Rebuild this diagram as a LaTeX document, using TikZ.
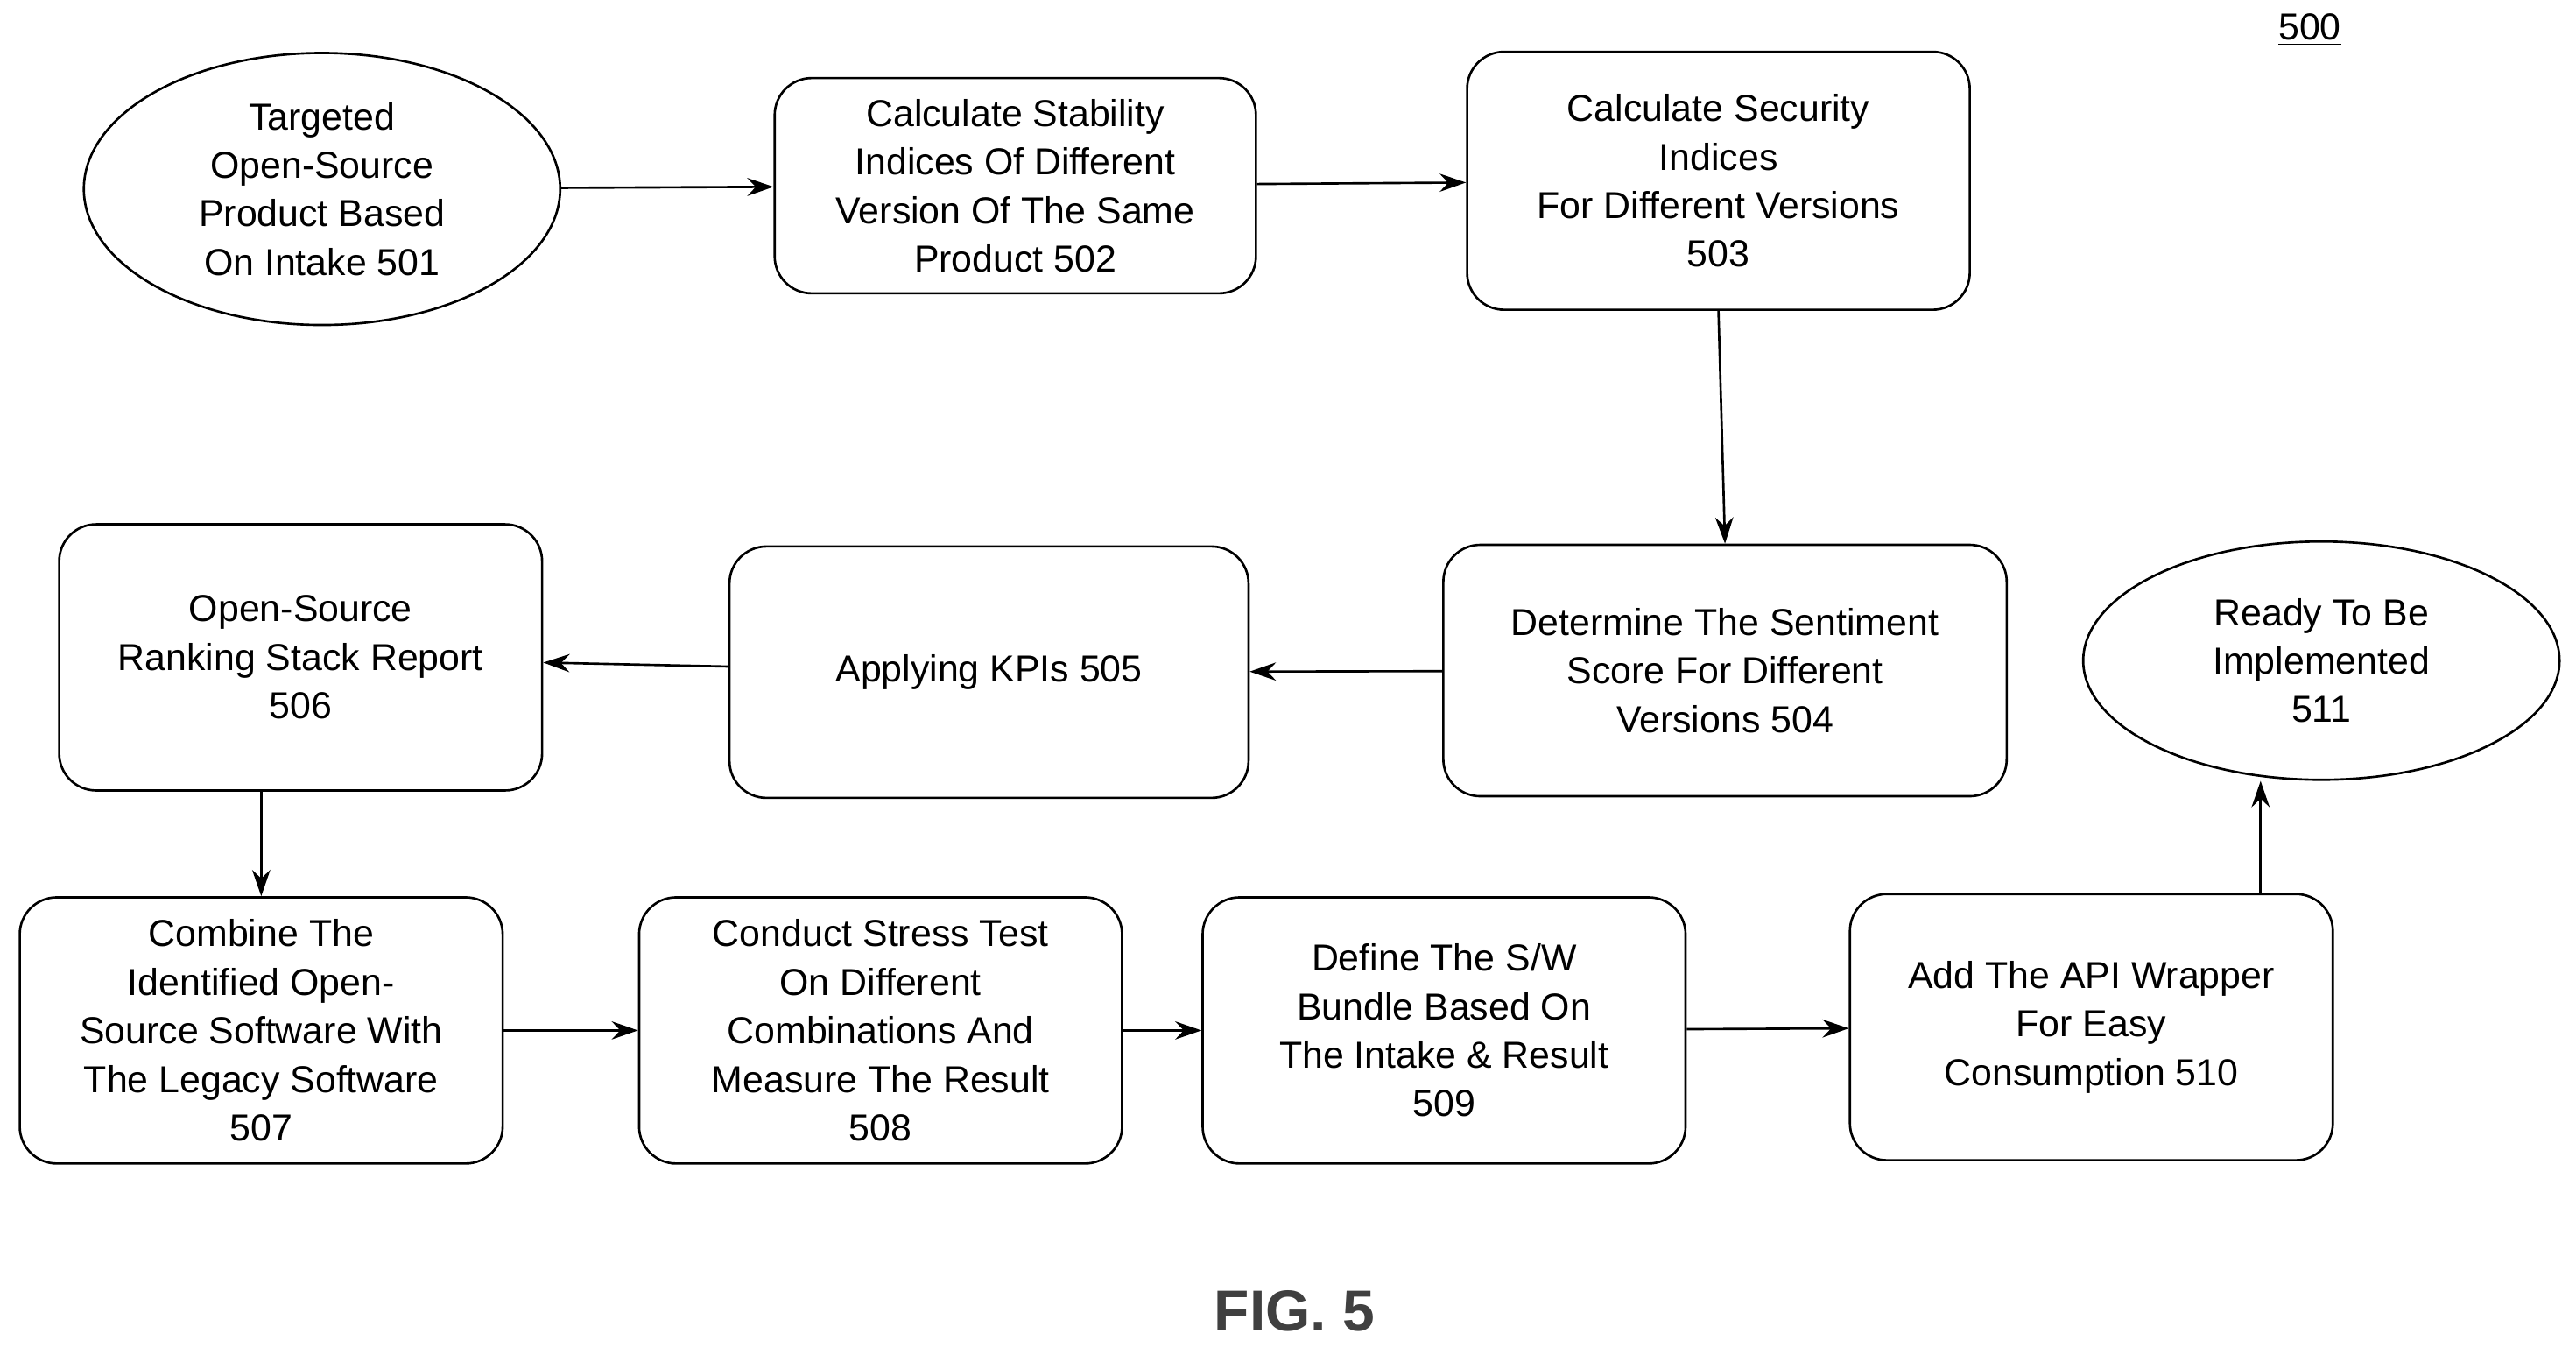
\documentclass[tikz,border=0pt]{standalone}
\usepackage{fontspec}
\setmainfont{Liberation Sans}
\usetikzlibrary{shapes.geometric, arrows.meta, calc}
\tikzset{
box/.style={draw, thick, rounded corners=0.45cm, align=center, font=\fontsize{13}{16.8}\selectfont}, % process step
oval/.style={draw, thick, ellipse, align=center, font=\fontsize{13}{16.8}\selectfont}, % start and end
flow/.style={-{Stealth[length=0.32cm, width=0.22cm]}, thick}, % connectors
}
\begin{document}
\begin{tikzpicture}[x=0.02cm, y=-0.02cm]
    \useasboundingbox (0,0) rectangle (1568,824);
    \node[oval, minimum width=5.8cm, minimum height=3cm] (n501) at (196,115) {Targeted\\Open-Source\\Product Based\\On Intake 501};
    \node[box, minimum width=5.86cm, minimum height=2.62cm] (n502) at (618,113) {Calculate Stability\\Indices Of Different\\Version Of The Same\\Product 502};
    \node[box, minimum width=6.12cm, minimum height=3.14cm] (n503) at (1046,110) {Calculate Security\\Indices\\For Different Versions\\503};
    \node[box, minimum width=6.86cm, minimum height=3.06cm] (n504) at (1050,408) {Determine The Sentiment\\Score For Different\\Versions 504};
    \node[box, minimum width=6.32cm, minimum height=3.06cm] (n505) at (602,409) {Applying KPIs 505};
    \node[box, minimum width=5.88cm, minimum height=3.24cm] (n506) at (183,400) {Open-Source\\Ranking Stack Report\\506};
    \node[box, minimum width=5.88cm, minimum height=3.24cm] (n507) at (159,627) {Combine The\\Identified Open-\\Source Software With\\The Legacy Software\\507};
    \node[box, minimum width=5.88cm, minimum height=3.24cm] (n508) at (536,627) {Conduct Stress Test\\On Different\\Combinations And\\Measure The Result\\508};
    \node[box, minimum width=5.88cm, minimum height=3.24cm] (n509) at (879,627) {Define The S/W\\Bundle Based On\\The Intake \& Result\\509};
    \node[box, minimum width=5.88cm, minimum height=3.24cm] (n510) at (1273,625) {Add The API Wrapper\\For Easy\\Consumption 510};
    \node[oval, minimum width=5.8cm, minimum height=2.9cm] (n511) at (1413,402) {Ready To Be\\Implemented\\511};
    \node[font=\fontsize{13}{16}\selectfont] (n500) at (1406,18) {\underline{500}};
    \node[font=\fontsize{20}{24}\bfseries\selectfont, text=black!75] (fig) at (788,798) {FIG. 5};

    \coordinate (c511) at ($(n511.south)+(-37,0)$);
    \draw[flow] (n501) -- (n502);
    \draw[flow] (n502) -- (n503);
    \draw[flow] (n503.south) -- (n504.north);
    \draw[flow] (n504) -- (n505);
    \draw[flow] (n505) -- (n506);
    \draw[flow] (n506.south -| n507.north) -- (n507.north);
    \draw[flow] (n507) -- (n508);
    \draw[flow] (n508) -- (n509);
    \draw[flow] (n509) -- (n510);
    \draw[flow] (n510.north -| c511) -- (c511);
\end{tikzpicture}
\end{document}
